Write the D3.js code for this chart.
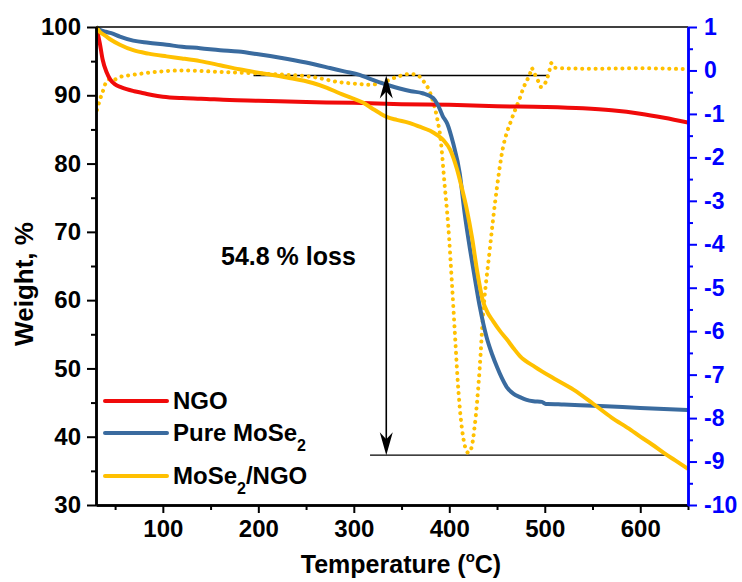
<!DOCTYPE html>
<html>
<head>
<meta charset="utf-8">
<script src="https://d3js.org/d3.v7.min.js"></script>
<style>
  body { margin: 0; background: #fff; }
  svg text { font-family: "Liberation Sans", Arial, sans-serif; font-weight: bold; }
</style>
</head>
<body>
<div id="chart"></div>
<script>
// data
var tempNGO = [30,32,34,37,41,45,50,56,62,70,80,90,100,120,140,170,200,250,300,350,400,450,500,540,570,600,625,650];
var wtNGO   = [100,98.9,97.6,95.2,93.4,92.3,91.6,91.2,90.9,90.6,90.3,90.0,89.8,89.6,89.5,89.3,89.2,89.0,88.9,88.7,88.6,88.4,88.3,88.1,87.8,87.3,86.7,86.0];

var tempMoSe2 = [30,34,40,46,55,69,85,104,120,139,160,179,200,223,250,275,290,306,317,327,338,348,360,372,383,388,393,398,404,411,416,422,427,432,439,445,450,455,460,467,474,481,488,497,501,503,520,558,600,650];
var wtMoSe2   = [100,99.6,99.3,99.1,98.6,98.0,97.7,97.4,97.1,96.9,96.6,96.4,96.0,95.5,94.8,94.0,93.5,93.0,92.4,91.9,91.4,91.0,90.6,90.3,89.6,88.6,87.0,85.8,83.0,78.5,72.8,67.2,63.0,59.0,54.6,52.0,50.2,48.6,47.3,46.3,45.8,45.4,45.2,45.1,44.8,44.8,44.7,44.5,44.2,43.9];

var tempComp = [30,34,40,46,55,69,85,104,120,139,160,180,205,230,257,272,285,298,310,320,327,335,345,357,369,380,387,394,401,408,413,418,424,429,435,440,446,453,460,467,474,490,510,530,550,570,590,600,612,625,637,650];
var wtComp   = [100,99.3,98.7,98.1,97.4,96.6,96.1,95.7,95.4,95.0,94.4,93.8,93.2,92.6,91.8,91.1,90.3,89.6,88.9,88.0,87.4,86.8,86.4,86.0,85.4,84.8,84.2,83.4,82.0,79.2,76.5,73.5,69.0,64.4,60.0,58.2,56.9,55.5,54.3,53.0,51.8,50.2,48.5,46.9,44.9,42.8,41.0,40.0,38.9,37.6,36.5,35.3];

// derivative curve (right axis)
var tempDeriv = [31,34,37,41,44,48,55,69,94,121,157,191,220,257,285,305,317,331,345,359,366,372,380,387,391,395,399,403,406,409,412,415,418,420,423,426,429,432,435,442,450,456,460,464,468,471,474,478,482,485,486,489,493,496,500,503,505,507,511,520,550,600,650];
var deriv     = [-0.91,-0.68,-0.49,-0.25,-0.2,-0.22,-0.15,-0.1,-0.03,0.0,-0.03,-0.06,-0.09,-0.15,-0.27,-0.31,-0.33,-0.27,-0.15,-0.08,-0.1,-0.22,-0.52,-1.07,-1.6,-2.6,-3.6,-4.98,-6.1,-7.2,-8.0,-8.5,-8.75,-8.8,-8.7,-8.3,-7.65,-6.8,-5.74,-4.2,-2.68,-1.8,-1.45,-1.2,-0.96,-0.8,-0.63,-0.38,-0.2,-0.04,0.06,-0.06,-0.24,-0.38,-0.31,-0.15,0.01,0.17,0.06,0.05,0.04,0.05,0.03];

var xTicks = [100,200,300,400,500,600];
var yTicks = [30,40,50,60,70,80,90,100];
var y2Ticks = [1,0,-1,-2,-3,-4,-5,-6,-7,-8,-9,-10];

// annotation: weight-loss levels and arrow
var lossTop = 92.9, lossBottom = 37.3, lossArrowT = 334;
var lossLabel = "54.8 % loss";

var W = 742, H = 582;
var svg = d3.select("#chart").append("svg")
  .attr("width", W).attr("height", H);

var x = d3.scaleLinear().domain([30, 650]).range([96, 688]);
var y = d3.scaleLinear().domain([30, 100]).range([505, 27]);
var y2 = d3.scaleLinear().domain([-10, 1]).range([505, 27]);

var red = "#f00a0a", blue = "#3a6b9f", gold = "#ffc000";

function pts(xs, ys) { return xs.map(function(d, i){ return [d, ys[i]]; }); }

var line1 = d3.line().x(function(d){ return x(d[0]); }).y(function(d){ return y(d[1]); }).curve(d3.curveMonotoneX);
var line2 = d3.line().x(function(d){ return x(d[0]); }).y(function(d){ return y2(d[1]); }).curve(d3.curveMonotoneX);

svg.append("defs").append("clipPath").attr("id", "clip")
  .append("rect").attr("x", 96).attr("y", 20).attr("width", 592).attr("height", 485);

var plot = svg.append("g").attr("clip-path", "url(#clip)");

// annotation lines
plot.append("line")
  .attr("x1", x(195)).attr("x2", x(504))
  .attr("y1", y(lossTop)).attr("y2", y(lossTop))
  .attr("stroke", "#000").attr("stroke-width", 1.3);
plot.append("line")
  .attr("x1", x(317)).attr("x2", x(626))
  .attr("y1", y(lossBottom)).attr("y2", y(lossBottom))
  .attr("stroke", "#000").attr("stroke-width", 1.3);

plot.append("path").attr("d", line2(pts(tempDeriv, deriv)))
  .attr("fill", "none").attr("stroke", gold).attr("stroke-width", 4)
  .attr("stroke-linecap", "round").attr("stroke-dasharray", "0.1 6.6");

plot.append("path").attr("d", line1(pts(tempNGO, wtNGO)))
  .attr("fill", "none").attr("stroke", red).attr("stroke-width", 4);
plot.append("path").attr("d", line1(pts(tempMoSe2, wtMoSe2)))
  .attr("fill", "none").attr("stroke", blue).attr("stroke-width", 4);
plot.append("path").attr("d", line1(pts(tempComp, wtComp)))
  .attr("fill", "none").attr("stroke", gold).attr("stroke-width", 4);

// double arrow
var ax = x(lossArrowT), ayTop = y(lossTop), ayBot = y(lossBottom);
svg.append("line").attr("x1", ax).attr("x2", ax)
  .attr("y1", ayTop + 10).attr("y2", ayBot - 10)
  .attr("stroke", "#000").attr("stroke-width", 1.6);
function head(tipY, dir) {
  return "M" + ax + "," + tipY +
    "L" + (ax + 6.5) + "," + (tipY + dir * 23) +
    "L" + ax + "," + (tipY + dir * 16) +
    "L" + (ax - 6.5) + "," + (tipY + dir * 23) + "Z";
}
svg.append("path").attr("d", head(ayTop, 1)).attr("fill", "#000");
svg.append("path").attr("d", head(ayBot, -1)).attr("fill", "#000");

svg.append("text").attr("x", 221).attr("y", 265)
  .attr("font-size", 25).text(lossLabel);

// top frame line
svg.append("line").attr("x1", 96).attr("x2", 688).attr("y1", 27).attr("y2", 27)
  .attr("stroke", "#000").attr("stroke-width", 1.5);

// axes
function styleAxis(g, color, size) {
  g.select(".domain").attr("stroke", color).attr("stroke-width", 2.5);
  g.selectAll(".tick line").attr("stroke", color).attr("stroke-width", 2);
  g.selectAll(".tick text").attr("fill", color).attr("font-size", size)
    .style("font-family", "'Liberation Sans', Arial, sans-serif").style("font-weight", "bold");
}

var minorX = d3.range(50, 651, 100);
var minorY = d3.range(35, 100, 10);
var minorY2 = d3.range(-9.5, 1, 1);

svg.append("g").attr("transform", "translate(0,505)")
  .call(d3.axisBottom(x).tickValues(minorX).tickSize(5).tickFormat("").tickSizeOuter(0))
  .call(function(g){ styleAxis(g, "#000", 24); });
svg.append("g").attr("transform", "translate(0,505)")
  .call(d3.axisBottom(x).tickValues(xTicks).tickSize(8).tickPadding(7).tickSizeOuter(0))
  .call(function(g){ styleAxis(g, "#000", 24); });

svg.append("g").attr("transform", "translate(96,0)")
  .call(d3.axisLeft(y).tickValues(minorY).tickSize(5).tickFormat("").tickSizeOuter(0))
  .call(function(g){ styleAxis(g, "#000", 24); });
svg.append("g").attr("transform", "translate(96,0)")
  .call(d3.axisLeft(y).tickValues(yTicks).tickSize(9).tickPadding(6).tickSizeOuter(0))
  .call(function(g){ styleAxis(g, "#000", 24); });

svg.append("g").attr("transform", "translate(688,0)")
  .call(d3.axisRight(y2).tickValues(minorY2).tickSize(5).tickFormat("").tickSizeOuter(0))
  .call(function(g){ styleAxis(g, "#0000ff", 23); });
svg.append("g").attr("transform", "translate(688,0)")
  .call(d3.axisRight(y2).tickValues(y2Ticks).tickSize(9).tickPadding(7).tickSizeOuter(0)
    .tickFormat(function(d){ return String(d); }))
  .call(function(g){ styleAxis(g, "#0000ff", 23); });

// axis titles
var xt = svg.append("text").attr("x", 401).attr("y", 573)
  .attr("text-anchor", "middle").attr("font-size", 25);
xt.append("tspan").text("Temperature (");
xt.append("tspan").attr("font-size", 15).attr("dy", -11).text("o");
xt.append("tspan").attr("dy", 11).text("C)");

svg.append("text").attr("transform", "translate(33,284) rotate(-90)")
  .attr("text-anchor", "middle").attr("font-size", 26).text("Weight, %");

// legend
var legend = [
  { name: ["NGO"], color: red, y: 401 },
  { name: ["Pure MoSe", "2", ""], color: blue, y: 433 },
  { name: ["MoSe", "2", "/NGO"], color: gold, y: 476 }
];
legend.forEach(function(d) {
  svg.append("line").attr("x1", 105).attr("x2", 167).attr("y1", d.y).attr("y2", d.y)
    .attr("stroke", d.color).attr("stroke-width", 4).attr("stroke-linecap", "round");
  var t = svg.append("text").attr("x", 173).attr("y", d.y + 8).attr("font-size", 24);
  t.append("tspan").text(d.name[0]);
  if (d.name.length > 1) {
    t.append("tspan").attr("font-size", 16).attr("dy", 10).text(d.name[1]);
    if (d.name[2]) t.append("tspan").attr("dy", -10).text(d.name[2]);
  }
});
</script>
</body>
</html>
